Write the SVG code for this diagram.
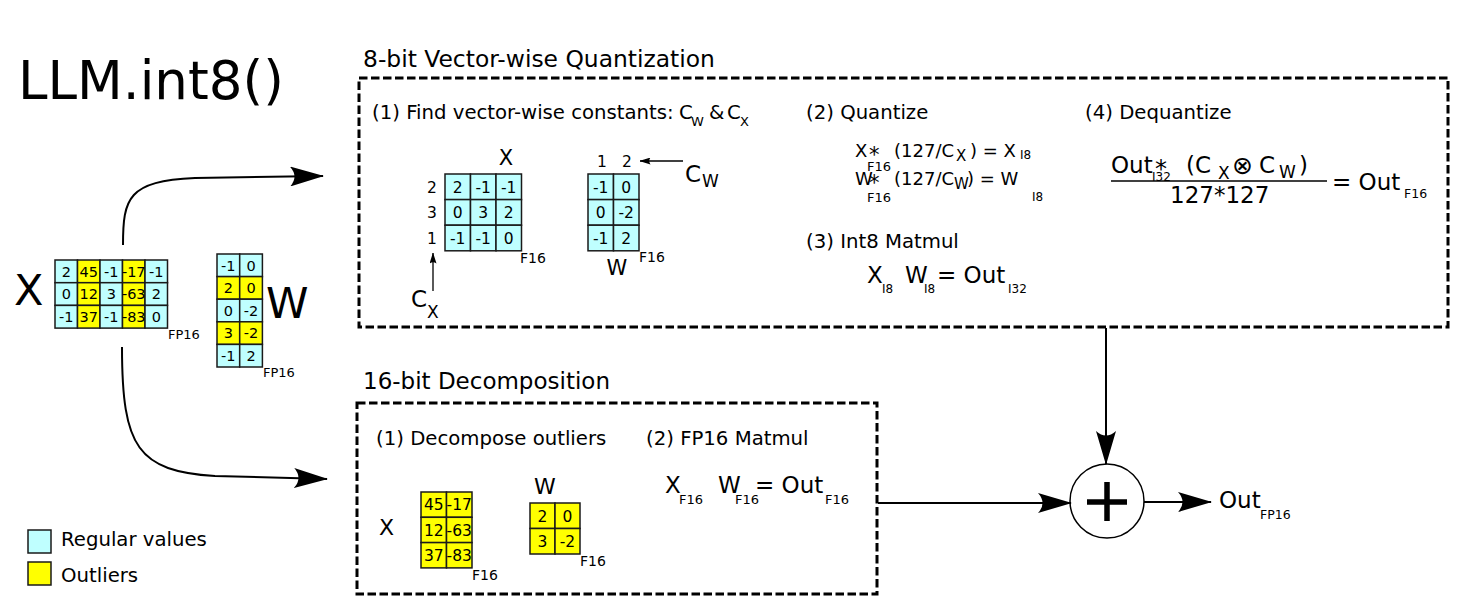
<svg xmlns="http://www.w3.org/2000/svg" width="1479" height="614" viewBox="0 0 1479 614">
<style>
text{font-family:"DejaVu Sans","Liberation Sans",sans-serif;fill:#000}
.c{fill:#bfffff;stroke:#1a1a1a;stroke-width:1.5}
.y{fill:#ffff00;stroke:#1a1a1a;stroke-width:1.5}
.n{font-size:14.5px;text-anchor:middle}
.m{font-size:15.5px;text-anchor:middle}
.h{font-size:19.7px}
.t{font-size:23px}
.e{font-size:18px}
.s{font-size:12px}
.ss{font-size:13px}
.lbl{font-size:13px}
.box{fill:none;stroke:#000;stroke-width:3;stroke-dasharray:8.5,3.5}
.ln{fill:none;stroke:#000;stroke-width:2}
.thin{fill:none;stroke:#000;stroke-width:1.3}
</style>
<defs>
<marker id="ah" markerUnits="userSpaceOnUse" markerWidth="34" markerHeight="20" viewBox="0 0 34 20" refX="33" refY="10" orient="auto"><path d="M0,0 L34,10 L0,20 Q9,10 0,0Z" fill="#000"/></marker>
<marker id="sa" markerUnits="userSpaceOnUse" markerWidth="11" markerHeight="7" viewBox="0 0 11 7" refX="10.5" refY="3.5" orient="auto"><path d="M0,0 L11,3.5 L0,7 Q2.5,3.5 0,0Z" fill="#000"/></marker>
</defs>
<rect width="1479" height="614" fill="#fff"/>

<g id="title"><text x="18" y="99" style="font-size:53px">LLM.int8()</text></g>

<g id="input-x">
<text x="14" y="305" style="font-size:43px">X</text>
<rect class="c" x="55" y="260" width="22.5" height="22.7"/><rect class="y" x="77.5" y="260" width="22.5" height="22.7"/><rect class="c" x="100" y="260" width="22.5" height="22.7"/><rect class="y" x="122.5" y="260" width="22.5" height="22.7"/><rect class="c" x="145" y="260" width="22.5" height="22.7"/>
<rect class="c" x="55" y="282.7" width="22.5" height="22.7"/><rect class="y" x="77.5" y="282.7" width="22.5" height="22.7"/><rect class="c" x="100" y="282.7" width="22.5" height="22.7"/><rect class="y" x="122.5" y="282.7" width="22.5" height="22.7"/><rect class="c" x="145" y="282.7" width="22.5" height="22.7"/>
<rect class="c" x="55" y="305.4" width="22.5" height="22.7"/><rect class="y" x="77.5" y="305.4" width="22.5" height="22.7"/><rect class="c" x="100" y="305.4" width="22.5" height="22.7"/><rect class="y" x="122.5" y="305.4" width="22.5" height="22.7"/><rect class="c" x="145" y="305.4" width="22.5" height="22.7"/>
<text class="n" x="66.25" y="276.6">2</text><text class="n" x="88.75" y="276.6">45</text><text class="n" x="111.25" y="276.6">-1</text><text class="n" x="133.75" y="276.6">-17</text><text class="n" x="156.25" y="276.6">-1</text>
<text class="n" x="66.25" y="299.3">0</text><text class="n" x="88.75" y="299.3">12</text><text class="n" x="111.25" y="299.3">3</text><text class="n" x="133.75" y="299.3">-63</text><text class="n" x="156.25" y="299.3">2</text>
<text class="n" x="66.25" y="322">-1</text><text class="n" x="88.75" y="322">37</text><text class="n" x="111.25" y="322">-1</text><text class="n" x="133.75" y="322">-83</text><text class="n" x="156.25" y="322">0</text>
<text class="lbl" x="168" y="339">FP16</text>
</g>

<g id="input-w">
<rect class="c" x="217" y="254" width="22.7" height="22.6"/><rect class="c" x="239.7" y="254" width="22.7" height="22.6"/>
<rect class="y" x="217" y="276.6" width="22.7" height="22.6"/><rect class="y" x="239.7" y="276.6" width="22.7" height="22.6"/>
<rect class="c" x="217" y="299.2" width="22.7" height="22.6"/><rect class="c" x="239.7" y="299.2" width="22.7" height="22.6"/>
<rect class="y" x="217" y="321.8" width="22.7" height="22.6"/><rect class="y" x="239.7" y="321.8" width="22.7" height="22.6"/>
<rect class="c" x="217" y="344.4" width="22.7" height="22.6"/><rect class="c" x="239.7" y="344.4" width="22.7" height="22.6"/>
<text class="n" x="228.35" y="270.5">-1</text><text class="n" x="251.05" y="270.5">0</text>
<text class="n" x="228.35" y="293.1">2</text><text class="n" x="251.05" y="293.1">0</text>
<text class="n" x="228.35" y="315.7">0</text><text class="n" x="251.05" y="315.7">-2</text>
<text class="n" x="228.35" y="338.3">3</text><text class="n" x="251.05" y="338.3">-2</text>
<text class="n" x="228.35" y="360.9">-1</text><text class="n" x="251.05" y="360.9">2</text>
<text x="266" y="318" style="font-size:43px">W</text>
<text class="lbl" x="263" y="377">FP16</text>
</g>

<g id="quantization">
<rect class="box" x="359" y="78" width="1089" height="249"/>
<text x="363" y="67" style="font-size:23.4px">8-bit Vector-wise Quantization</text>
<text class="h" x="372" y="119">(1) Find vector-wise constants:</text>
<text class="h" x="679" y="119">C</text><text class="ss" x="691" y="126">W</text>
<text class="h" x="709" y="119">&amp;</text>
<text class="h" x="727" y="119">C</text><text class="ss" x="740" y="126">X</text>
<!-- quant X matrix -->
<text x="506" y="165" style="font-size:21px;text-anchor:middle">X</text>
<rect class="c" x="445" y="174" width="25.5" height="25.6"/><rect class="c" x="470.5" y="174" width="25.5" height="25.6"/><rect class="c" x="496" y="174" width="25.5" height="25.6"/>
<rect class="c" x="445" y="199.6" width="25.5" height="25.6"/><rect class="c" x="470.5" y="199.6" width="25.5" height="25.6"/><rect class="c" x="496" y="199.6" width="25.5" height="25.6"/>
<rect class="c" x="445" y="225.2" width="25.5" height="25.6"/><rect class="c" x="470.5" y="225.2" width="25.5" height="25.6"/><rect class="c" x="496" y="225.2" width="25.5" height="25.6"/>
<text class="m" x="457.75" y="192.5">2</text><text class="m" x="483.25" y="192.5">-1</text><text class="m" x="508.75" y="192.5">-1</text>
<text class="m" x="457.75" y="218.1">0</text><text class="m" x="483.25" y="218.1">3</text><text class="m" x="508.75" y="218.1">2</text>
<text class="m" x="457.75" y="243.7">-1</text><text class="m" x="483.25" y="243.7">-1</text><text class="m" x="508.75" y="243.7">0</text>
<text class="m" x="432" y="192.5">2</text><text class="m" x="432" y="218.1">3</text><text class="m" x="432" y="243.7">1</text>
<text x="520" y="263" style="font-size:14px">F16</text>
<text x="411" y="307" style="font-size:23px">C</text><text x="427" y="318" style="font-size:17px">X</text>
<!-- quant W matrix -->
<rect class="c" x="588" y="174" width="25.5" height="25.6"/><rect class="c" x="613.5" y="174" width="25.5" height="25.6"/>
<rect class="c" x="588" y="199.6" width="25.5" height="25.6"/><rect class="c" x="613.5" y="199.6" width="25.5" height="25.6"/>
<rect class="c" x="588" y="225.2" width="25.5" height="25.6"/><rect class="c" x="613.5" y="225.2" width="25.5" height="25.6"/>
<text class="m" x="600.75" y="192.5">-1</text><text class="m" x="626.25" y="192.5">0</text>
<text class="m" x="600.75" y="218.1">0</text><text class="m" x="626.25" y="218.1">-2</text>
<text class="m" x="600.75" y="243.7">-1</text><text class="m" x="626.25" y="243.7">2</text>
<text class="m" x="602" y="167">1</text><text class="m" x="627" y="167">2</text>
<text x="617" y="275" style="font-size:21px;text-anchor:middle">W</text>
<text x="639" y="262" style="font-size:14px">F16</text>
<text x="685" y="182" style="font-size:23px">C</text><text x="702" y="187" style="font-size:17px">W</text>
<!-- (2) quantize -->
<text class="h" x="806" y="119">(2) Quantize</text>
<text class="e" x="855" y="157">X</text><text x="869" y="162" style="font-size:21px">*</text><text class="ss" x="867" y="171">F16</text>
<text class="e" x="894" y="157">(127/C</text><text x="956" y="161" style="font-size:15px">X</text>
<text class="e" x="970" y="157">) = X</text><text class="s" x="1020" y="159">I8</text>
<text class="e" x="855" y="185">W</text><text x="869" y="190" style="font-size:21px">*</text><text class="ss" x="867" y="202">F16</text>
<text class="e" x="894" y="185">(127/C</text><text x="954" y="189" style="font-size:15px">W</text>
<text class="e" x="967" y="185">) = W</text><text class="s" x="1032" y="201">I8</text>
<!-- (3) int8 matmul -->
<text class="h" x="806" y="248">(3) Int8 Matmul</text>
<text class="t" x="867" y="283">X</text><text class="s" x="882" y="293">I8</text>
<text class="t" x="905" y="283">W</text><text class="s" x="924" y="293">I8</text>
<text class="t" x="937" y="283">= Out</text><text class="s" x="1008" y="293">I32</text>
<!-- (4) dequantize -->
<text class="h" x="1085" y="119">(4) Dequantize</text>
<text class="t" x="1111" y="173">Out</text><text x="1155" y="177" style="font-size:24px">*</text><text class="s" x="1152" y="181">I32</text>
<text class="t" x="1186" y="173">(C</text><text x="1218" y="179" style="font-size:17px">X</text>
<text x="1232" y="174" style="font-size:25px">⊗</text>
<text class="t" x="1259" y="173">C</text><text x="1279" y="178" style="font-size:17px">W</text>
<text class="t" x="1299" y="173">)</text>
<line x1="1111" y1="181" x2="1327" y2="181" stroke="#000" stroke-width="1.5"/>
<text class="t" x="1170" y="203">127*127</text>
<text class="t" x="1332" y="190">= Out</text><text x="1404" y="198" style="font-size:12.5px">F16</text>
</g>

<g id="decomposition">
<rect class="box" x="357" y="403" width="520" height="191"/>
<text class="t" x="363" y="389">16-bit Decomposition</text>
<text class="h" x="376" y="445">(1) Decompose outliers</text>
<text class="h" x="646" y="445">(2) FP16 Matmul</text>
<text x="379" y="535" style="font-size:22px">X</text>
<rect class="y" x="421" y="492" width="25.5" height="25.3"/><rect class="y" x="446.5" y="492" width="25.5" height="25.3"/>
<rect class="y" x="421" y="517.3" width="25.5" height="25.3"/><rect class="y" x="446.5" y="517.3" width="25.5" height="25.3"/>
<rect class="y" x="421" y="542.6" width="25.5" height="25.3"/><rect class="y" x="446.5" y="542.6" width="25.5" height="25.3"/>
<text class="m" x="433.75" y="510.4">45</text><text class="m" x="459.25" y="510.4">-17</text>
<text class="m" x="433.75" y="535.7">12</text><text class="m" x="459.25" y="535.7">-63</text>
<text class="m" x="433.75" y="561">37</text><text class="m" x="459.25" y="561">-83</text>
<text x="472" y="580" style="font-size:14px">F16</text>
<text x="534" y="494" style="font-size:22px">W</text>
<rect class="y" x="530" y="503" width="25" height="25.5"/><rect class="y" x="555" y="503" width="25" height="25.5"/>
<rect class="y" x="530" y="528.5" width="25" height="25.5"/><rect class="y" x="555" y="528.5" width="25" height="25.5"/>
<text class="m" x="542.5" y="521.5">2</text><text class="m" x="567.5" y="521.5">0</text>
<text class="m" x="542.5" y="547">3</text><text class="m" x="567.5" y="547">-2</text>
<text x="580" y="566" style="font-size:14px">F16</text>
<text class="t" x="665" y="493">X</text><text class="ss" x="679" y="504">F16</text>
<text class="t" x="718" y="493">W</text><text class="ss" x="735" y="504">F16</text>
<text class="t" x="755" y="493">= Out</text><text class="ss" x="825" y="504">F16</text>
</g>

<g id="sum">
<circle cx="1107" cy="501" r="37" fill="#fff" stroke="#000" stroke-width="1.5"/>
<path d="M1087,502 H1127 M1107,482 V521" stroke="#000" stroke-width="5.5" fill="none"/>
</g>

<g id="output">
<text class="t" x="1219" y="508">Out</text><text x="1260" y="519" style="font-size:12.5px">FP16</text>
</g>

<g id="legend">
<rect class="c" x="28" y="530" width="23" height="23"/>
<rect class="y" x="28" y="562" width="23" height="23"/>
<text class="h" x="61" y="546">Regular values</text>
<text class="h" x="61" y="582">Outliers</text>
</g>

<g id="connectors">
<path class="ln" d="M123,245 C123,198 128,181 195,178 L323,176" marker-end="url(#ah)"/>
<path class="ln" d="M122,347 C122,448 138,471 215,476 L327,479" marker-end="url(#ah)"/>
<path class="ln" d="M1106,328 V464" marker-end="url(#ah)"/>
<path class="ln" d="M878,503 H1071" marker-end="url(#ah)"/>
<path class="ln" d="M1144,502 H1211" marker-end="url(#ah)"/>
<path class="thin" d="M433,291 V253" marker-end="url(#sa)"/>
<path class="thin" d="M683,161 H640" marker-end="url(#sa)"/>
</g>
</svg>
